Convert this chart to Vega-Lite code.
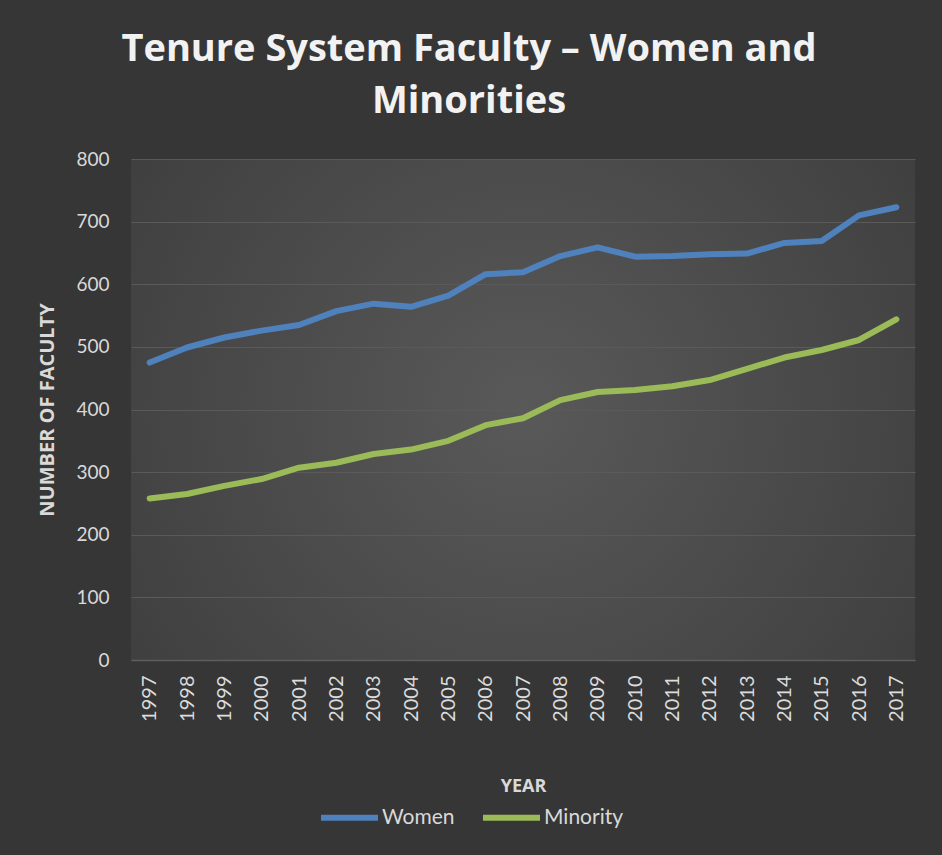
{
  "$schema": "https://vega.github.io/schema/vega-lite/v6.json",
  "width": 784,
  "height": 501,
  "autosize": {"type": "none"},
  "padding": {"left": 131, "top": 159, "right": 27, "bottom": 195},
  "background": "#363636",
  "title": {
    "text": ["Tenure System Faculty – Women and", "Minorities"],
    "font": "Open Sans",
    "fontSize": 38,
    "fontWeight": "bold",
    "color": "#f2f2f2",
    "anchor": "middle",
    "dx": -54,
    "offset": 29,
    "lineHeight": 52,
    "limit": 0
  },
  "data": {
    "values": [
      {"year": "1997", "series": "Women", "value": 475},
      {"year": "1998", "series": "Women", "value": 499},
      {"year": "1999", "series": "Women", "value": 515},
      {"year": "2000", "series": "Women", "value": 526},
      {"year": "2001", "series": "Women", "value": 535},
      {"year": "2002", "series": "Women", "value": 557},
      {"year": "2003", "series": "Women", "value": 569},
      {"year": "2004", "series": "Women", "value": 564},
      {"year": "2005", "series": "Women", "value": 582},
      {"year": "2006", "series": "Women", "value": 616},
      {"year": "2007", "series": "Women", "value": 619},
      {"year": "2008", "series": "Women", "value": 645},
      {"year": "2009", "series": "Women", "value": 659},
      {"year": "2010", "series": "Women", "value": 644},
      {"year": "2011", "series": "Women", "value": 645},
      {"year": "2012", "series": "Women", "value": 648},
      {"year": "2013", "series": "Women", "value": 649},
      {"year": "2014", "series": "Women", "value": 666},
      {"year": "2015", "series": "Women", "value": 669},
      {"year": "2016", "series": "Women", "value": 710},
      {"year": "2017", "series": "Women", "value": 723},
      {"year": "1997", "series": "Minority", "value": 258},
      {"year": "1998", "series": "Minority", "value": 265},
      {"year": "1999", "series": "Minority", "value": 278},
      {"year": "2000", "series": "Minority", "value": 289},
      {"year": "2001", "series": "Minority", "value": 307},
      {"year": "2002", "series": "Minority", "value": 315},
      {"year": "2003", "series": "Minority", "value": 329},
      {"year": "2004", "series": "Minority", "value": 336},
      {"year": "2005", "series": "Minority", "value": 350},
      {"year": "2006", "series": "Minority", "value": 375},
      {"year": "2007", "series": "Minority", "value": 386},
      {"year": "2008", "series": "Minority", "value": 415},
      {"year": "2009", "series": "Minority", "value": 428},
      {"year": "2010", "series": "Minority", "value": 431},
      {"year": "2011", "series": "Minority", "value": 437},
      {"year": "2012", "series": "Minority", "value": 447},
      {"year": "2013", "series": "Minority", "value": 465},
      {"year": "2014", "series": "Minority", "value": 483},
      {"year": "2015", "series": "Minority", "value": 495},
      {"year": "2016", "series": "Minority", "value": 511},
      {"year": "2017", "series": "Minority", "value": 544}
    ]
  },
  "mark": {"type": "line", "strokeWidth": 6, "strokeCap": "round", "strokeJoin": "round"},
  "encoding": {
    "x": {
      "field": "year",
      "type": "ordinal",
      "scale": {"type": "point", "padding": 0.5},
      "axis": {
        "title": "YEAR",
        "titleFont": "Open Sans",
        "titleFontSize": 18,
        "titleFontWeight": "bold",
        "titleColor": "#d9d9d9",
        "titlePadding": 56,
        "labelAngle": -90,
        "labelFont": "Lato",
        "labelFontSize": 20,
        "labelColor": "#dcdcdc",
        "labelPadding": 15,
        "labelAlign": "right",
        "labelBaseline": "middle",
        "domain": true,
        "domainColor": "#5e5e5e",
        "domainWidth": 1.5,
        "ticks": false,
        "grid": false
      }
    },
    "y": {
      "field": "value",
      "type": "quantitative",
      "scale": {"domain": [0, 800], "nice": false},
      "axis": {
        "title": "NUMBER OF  FACULTY",
        "titleFont": "Open Sans",
        "titleFontSize": 20,
        "titleFontWeight": "bold",
        "titleColor": "#d9d9d9",
        "titlePadding": 18,
        "values": [0, 100, 200, 300, 400, 500, 600, 700, 800],
        "labelFont": "Lato",
        "labelFontSize": 19,
        "labelColor": "#d9d9d9",
        "labelPadding": 22,
        "domain": false,
        "ticks": false,
        "grid": true,
        "gridColor": "#5a5a5a",
        "gridWidth": 1.2
      }
    },
    "color": {
      "field": "series",
      "type": "nominal",
      "scale": {"domain": ["Women", "Minority"], "range": ["#4f81bd", "#9bbb59"]},
      "legend": {
        "title": null,
        "orient": "none",
        "direction": "horizontal",
        "legendX": 187,
        "legendY": 627,
        "symbolType": "stroke",
        "symbolSize": 3249,
        "symbolStrokeWidth": 6,
        "labelFont": "Lato",
        "labelFontSize": 21,
        "labelColor": "#d9d9d9",
        "labelOffset": 1,
        "columnPadding": 16
      }
    }
  },
  "config": {
    "view": {
      "stroke": null,
      "fill": {
        "gradient": "radial",
        "x1": 0.5, "y1": 0.5, "r1": 0,
        "x2": 0.5, "y2": 0.5, "r2": 0.72,
        "stops": [
          {"offset": 0, "color": "#595959"},
          {"offset": 1, "color": "#3a3a3a"}
        ]
      }
    }
  }
}
